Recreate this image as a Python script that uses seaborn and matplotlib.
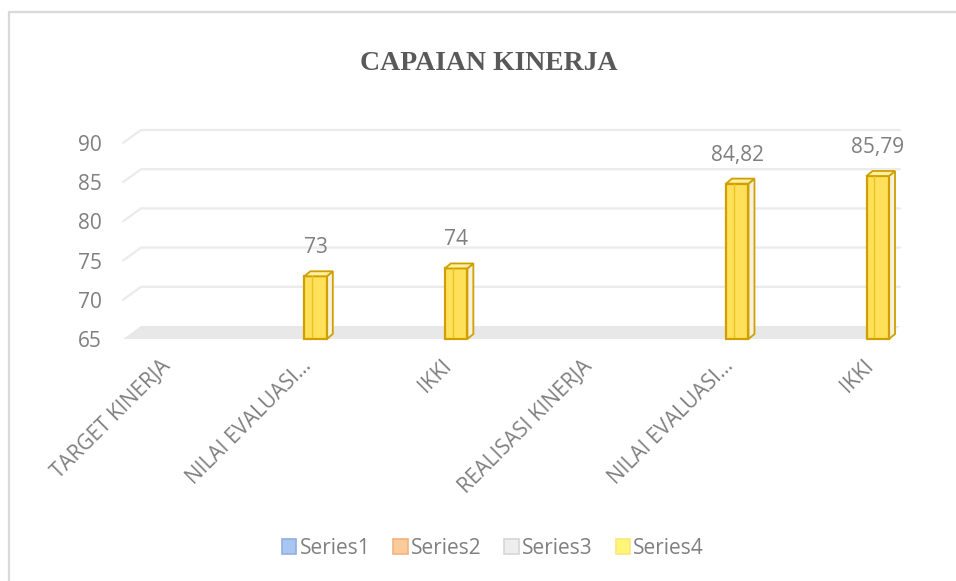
import matplotlib
matplotlib.use("Agg")
import matplotlib.pyplot as plt
import matplotlib.patches as mpatches
from matplotlib.patches import Polygon, Rectangle
import seaborn as sns
import pandas as pd
import numpy as np

# ---- data ----
categories = ["TARGET KINERJA", "NILAI EVALUASI...", "IKKI",
              "REALISASI KINERJA", "NILAI EVALUASI...", "IKKI"]
series4 = [None, 73, 74, None, 84.82, 85.79]
series_names = ["Series1", "Series2", "Series3", "Series4"]
series_fill = ["#A9C6F0", "#FBCB9A", "#EEEEEE", "#FFF577"]
series_edge = ["#8FB0E3", "#F4B183", "#D6D6D6", "#FFE57A"]
y_ticks = [65, 70, 75, 80, 85, 90]
title = "CAPAIAN KINERJA"

sns.set_theme(style="white")
plt.rcParams["font.family"] = ["Open Sans", "DejaVu Sans"]

W, H = 956, 581
fig = plt.figure(figsize=(W / 100, H / 100), dpi=100)
fig.patch.set_facecolor("white")

# front plane of the 3-D chart
axl, axr, axb, axt = 123, 882, 339, 143
ax = fig.add_axes([axl / W, 1 - axb / H, (axr - axl) / W, (axb - axt) / H])
ax.set_facecolor("none")

df = pd.DataFrame({"idx": list(range(len(categories))), "value": series4}).dropna()
sns.barplot(data=df, x="idx", y="value", order=list(range(len(categories))),
            color="#FFE15C", width=0.16, ax=ax, zorder=5)

xlim = (-0.37, 5.03)
ylim = (65, 90)
ax.set_xlim(*xlim)
ax.set_ylim(*ylim)

pxx = (axr - axl) / (xlim[1] - xlim[0])
pxy = (axb - axt) / (ylim[1] - ylim[0])

# back wall gridlines + floor (3-D look)
gdx, gdy = 18, 13
bt = ax.get_yaxis_transform()
for t in y_ticks[1:]:
    ax.plot([0, gdx / (axr - axl), 1 + gdx / (axr - axl)],
            [t, t + gdy / pxy, t + gdy / pxy], color="#EBEBEB", lw=1.6,
            transform=bt, clip_on=False, zorder=1)
floor = Polygon([(0, ylim[0]), (1, ylim[0]),
                 (1 + gdx / (axr - axl), ylim[0] + gdy / pxy),
                 (gdx / (axr - axl), ylim[0] + gdy / pxy)],
                closed=True, transform=bt, facecolor="#E8E8E8",
                edgecolor="none", clip_on=False, zorder=1)
ax.add_patch(floor)

# 3-D bar faces
ddx, ddy = 6 / pxx, 5 / pxy
edge = "#CFA000"
for p in list(ax.patches):
    if not isinstance(p, Rectangle):
        continue
    x0 = p.get_x()
    w = p.get_width()
    top = p.get_y() + p.get_height()
    if not np.isfinite(top):
        continue
    bot = ylim[0]
    x1 = x0 + w
    p.set_facecolor("#FFE05A")
    p.set_edgecolor(edge)
    p.set_linewidth(1.6)
    p.set_zorder(6)
    p.set_clip_on(False)
    p.set_y(bot)
    p.set_height(top - bot)
    side = Polygon([(x1, bot), (x1, top), (x1 + ddx, top + ddy), (x1 + ddx, bot + ddy)],
                   closed=True, facecolor="#F6F1DE", edgecolor=edge, lw=1.3, zorder=5,
                   clip_on=False)
    topf = Polygon([(x0, top), (x1, top), (x1 + ddx, top + ddy), (x0 + ddx, top + ddy)],
                   closed=True, facecolor="#FFEFA0", edgecolor=edge, lw=1.3, zorder=7,
                   clip_on=False)
    ax.add_patch(side)
    ax.add_patch(topf)
    ax.plot([x0 + ddx + 0.012, x0 + ddx + 0.012], [bot + 0.3, top], color="#E9C21E",
            lw=1.0, zorder=7, clip_on=False)

# data labels
labels = [f"{v:g}".replace(".", ",") for v in df["value"]]
ax.bar_label(ax.containers[0], labels=labels, padding=13, fontsize=15,
             color="#7F7F7F")

# axes styling
sns.despine(ax=ax, left=True, bottom=True)
ax.set_yticks(y_ticks)
ax.set_yticklabels([str(t) for t in y_ticks])
ax.set_xticks(list(range(len(categories))))
ax.set_xticklabels(categories, rotation=45, ha="right", rotation_mode="default")
ax.tick_params(axis="y", length=0, pad=15, labelsize=15, labelcolor="#7F7F7F")
ax.tick_params(axis="x", length=0, pad=12, labelsize=15, labelcolor="#7F7F7F")
ax.set_xlabel("")
ax.set_ylabel("")
ax.grid(False)

# title
fig.text(489 / W, 1 - 64 / H, title, ha="center", va="center",
         fontsize=20, fontweight="bold", color="#595959",
         family=["Liberation Serif", "DejaVu Serif"])

# legend
handles = [mpatches.Patch(facecolor=f, edgecolor=e, label=n, lw=1.2)
           for n, f, e in zip(series_names, series_fill, series_edge)]
fig.legend(handles=handles, loc="center", bbox_to_anchor=(493 / W, 1 - 548 / H),
           ncol=4, frameon=False, fontsize=15, labelcolor="#7F7F7F",
           handlelength=0.7, handleheight=0.7, handletextpad=0.15,
           columnspacing=1.1)

# chart border (cropped on right / bottom)
fig.patches.append(Rectangle((8.5 / W, -0.1), 1.2, 1 - 12.5 / H + 0.1,
                             transform=fig.transFigure, fill=False,
                             edgecolor="#D9D9D9", lw=1.6))

fig.savefig("out.png", dpi=100)
